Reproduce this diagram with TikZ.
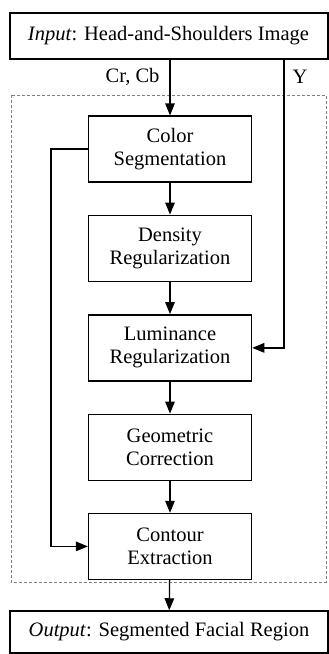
\documentclass[tikz,border=0pt]{standalone}
\usepackage{fontspec}
\setmainfont{Liberation Serif}
\usepackage{tikz}
\usetikzlibrary{positioning,arrows.meta}
\tikzset{
  every node/.style={align=center,font=\fontsize{20.5}{23}\selectfont},
  stage/.style={draw,line width=1.2pt,minimum width=163pt,minimum height=66pt,inner sep=0pt},
  io/.style={draw,minimum width=318pt,inner sep=0pt},
  arr/.style={-{Triangle[length=12pt,width=9.5pt]},line width=1.3pt},
}
\begin{document}
\begin{tikzpicture}[x=1pt,y=-1pt,node distance=32pt]
  \useasboundingbox (0,0) rectangle (329,654);
  % frame round the processing stages
  \draw[gray,densely dashed,line width=0.8pt] (11,95) rectangle (326,582);
  \node[io,line width=2pt,minimum height=46pt] (input) at (168.5,36)
    {\textit{Input}: Head-and-Shoulders Image};
  \node[stage] (color) at (170,149) {Color\\Segmentation};
  \node[stage,line width=1.5pt,below=of color] (density) {Density\\Regularization};
  \node[stage,line width=1.5pt,below=of density] (lum) {Luminance\\Regularization};
  \node[stage,below=of lum] (geom) {Geometric\\Correction};
  \node[stage,below=of geom] (contour) {Contour\\Extraction};
  \node[io,line width=1.5pt,minimum height=42pt] (output) at (169,632)
    {\textit{Output}: Segmented Facial Region};
  \coordinate (ytap) at (284,0);
  \draw[arr] (input.south -| color) -- (color.north);
  \draw[arr] (color) -- (density);
  \draw[arr] (density) -- (lum);
  \draw[arr] (lum) -- (geom);
  \draw[arr] (geom) -- (contour);
  \draw[arr] (contour) -- (output);
  \draw[arr] (input.south -| ytap) |- (lum.east);
  \draw[arr] (color.west) -- ++(-37,0) |- (contour.west);
  \node[anchor=east] (crcb) at (163,77) {Cr, Cb};
  \node (ylabel) at (300,77) {Y};
\end{tikzpicture}
\end{document}
